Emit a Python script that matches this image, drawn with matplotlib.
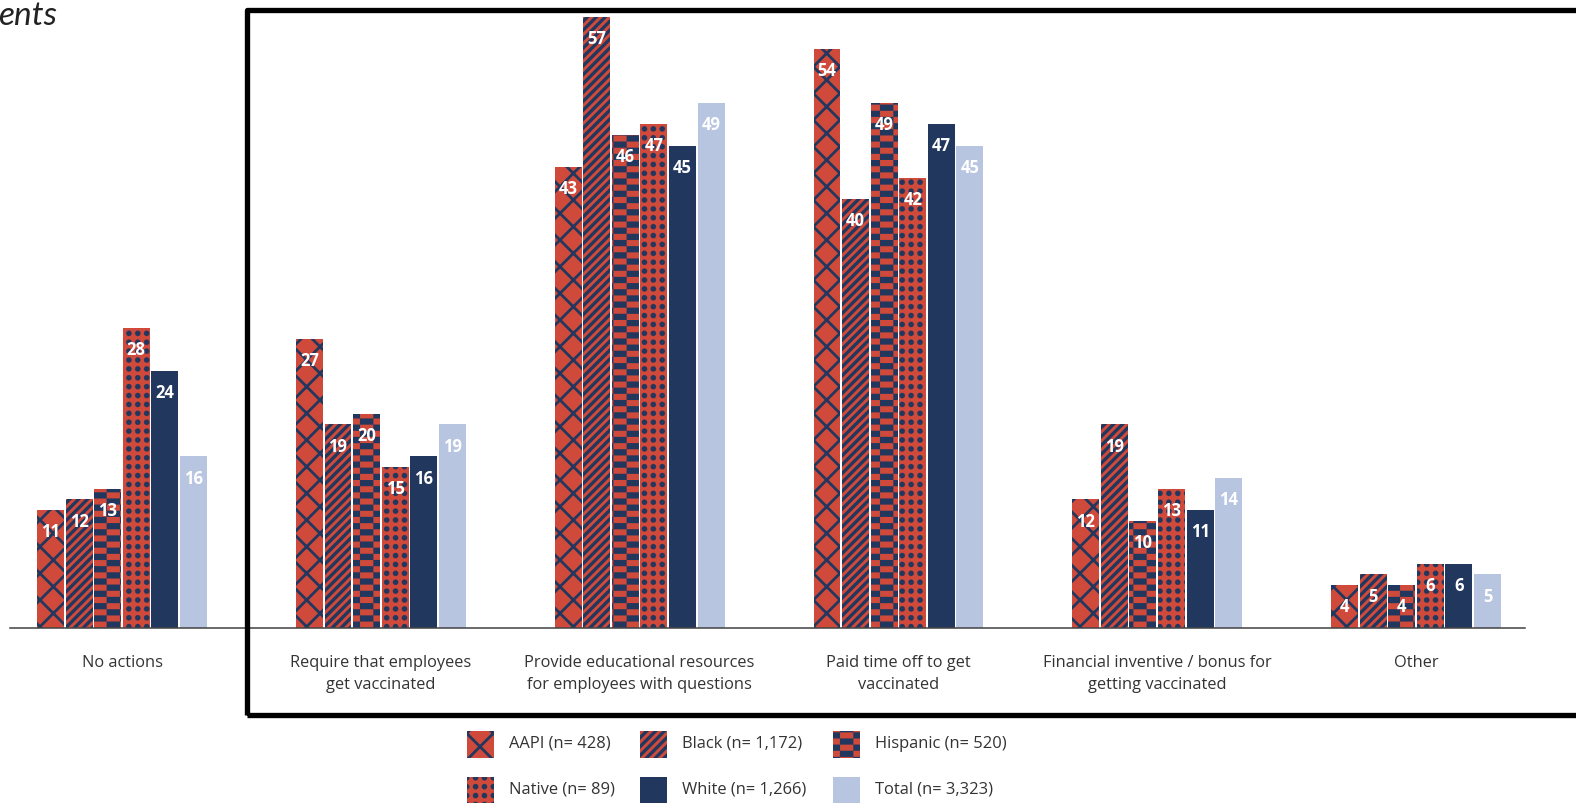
import warnings
import numpy as np
import matplotlib
matplotlib.use('Agg')
import matplotlib.pyplot as plt
import matplotlib.hatch as mhatch
from matplotlib.path import Path
from matplotlib.patches import Rectangle

warnings.filterwarnings('ignore')

# Dados
categories = ['No actions', 'Require that employees\nget vaccinated',
              'Provide educational resources\nfor employees with questions',
              'Paid time off to get\nvaccinated',
              'Financial inventive / bonus for\ngetting vaccinated', 'Other']
groups = ['AAPI (n= 428)', 'Black (n= 1,172)', 'Hispanic (n= 520)',
          'Native (n= 89)', 'White (n= 1,266)', 'Total (n= 3,323)']
aapi = [11, 27, 43, 54, 12, 4]
black = [12, 19, 57, 40, 19, 5]
hispanic = [13, 20, 46, 49, 10, 4]
native = [28, 15, 47, 42, 13, 6]
white = [24, 16, 45, 47, 11, 6]
total = [16, 19, 49, 45, 14, 5]

RED = '#d04a3b'
NAVY = '#22375e'
LIGHT = '#b8c5e0'
TXT = '#333333'


# hatches extras: xadrez ('c') e bolinhas em grade ('d')
class CellHatch(mhatch.HatchPatternBase):
    letter = None

    def __init__(self, hatch, density):
        self.cells = self.make_cells() if self.letter in hatch else []
        self.num_vertices = sum(len(c) for c in self.cells)

    def set_vertices_and_codes(self, vertices, codes):
        i = 0
        for cell in self.cells:
            n = len(cell)
            vertices[i:i + n] = cell
            codes[i] = Path.MOVETO
            codes[i + 1:i + n - 1] = Path.LINETO
            codes[i + n - 1] = Path.CLOSEPOLY
            i += n


class CheckerHatch(CellHatch):
    letter = 'c'

    def make_cells(self):
        nx, ny = 12, 26
        cells = []
        for i in range(nx):
            for j in range(ny):
                if (i + j) % 2 == 0:
                    x0, x1 = i / nx, (i + 1) / nx
                    y0, y1 = j / ny, (j + 1) / ny
                    cells.append(np.array([(x0, y0), (x1, y0), (x1, y1), (x0, y1), (x0, y0)]))
        return cells


class DotHatch(CellHatch):
    letter = 'd'

    def make_cells(self):
        n = 18
        t = np.linspace(0, 2 * np.pi, 17)
        ring = np.column_stack([np.cos(t), np.sin(t)]) * 0.31 / n
        return [ring + ((i + 0.5) / n, (j + 0.5) / n) for i in range(n) for j in range(n)]


mhatch._hatch_types.extend([CheckerHatch, DotHatch])

plt.rcParams['font.family'] = ['Open Sans', 'DejaVu Sans']
plt.rcParams['hatch.linewidth'] = 1.3

series = [aapi, black, hispanic, native, white, total]
styles = [
    dict(color=RED, edgecolor=NAVY, hatch='xx', hlw=1.25),
    dict(color=RED, edgecolor=NAVY, hatch='//////', hlw=1.5),
    dict(color=RED, edgecolor=NAVY, hatch='c', hlw=0.05),
    dict(color=RED, edgecolor=NAVY, hatch='d', hlw=0.05),
    dict(color=NAVY, edgecolor=NAVY, hatch=None, hlw=1),
    dict(color=LIGHT, edgecolor=LIGHT, hatch=None, hlw=1),
]


def style_patch(p, st):
    p.set_linewidth(0)
    if st['hatch'] and hasattr(p, 'set_hatch_linewidth'):
        p.set_hatch_linewidth(st['hlw'])


fig = plt.figure(figsize=(9.85, 5.01875), dpi=160)
ax = fig.add_axes([10 / 1576, 1 - 628 / 803, 1515 / 1576, 611 / 803])

x = np.arange(len(categories))
pitch = 0.1105
w = 0.104
for k, (vals, st) in enumerate(zip(series, styles)):
    pos = x + (k - 2.5) * pitch
    bars = ax.bar(pos, vals, width=w, color=st['color'], edgecolor=st['edgecolor'],
                  hatch=st['hatch'], linewidth=0)
    for b in bars:
        style_patch(b, st)
    for px, v in zip(pos, vals):
        ax.annotate(str(v), (px, v), xytext=(0, -10), textcoords='offset points',
                    ha='center', va='center', color='white', fontweight='bold', fontsize=7.5)

ax.set_xlim(-0.433, 5.421)
ax.set_ylim(0, 57)
ax.set_yticks([])
ax.set_xticks(x, categories, fontsize=7.4, color=TXT, linespacing=1.45)
ax.tick_params(axis='x', length=0, pad=12.3)
for s in ['top', 'right', 'left']:
    ax.spines[s].set_visible(False)
ax.spines['bottom'].set_color('#444444')
ax.spines['bottom'].set_linewidth(0.7)

# caixa preta destacando as acoes
fig.add_artist(Rectangle((247 / 1576, 1 - 715 / 803), 0.9, 705 / 803, fill=False,
                         edgecolor='black', linewidth=2.4, joinstyle='round',
                         transform=fig.transFigure, clip_on=False))

# titulo cortado
fig.text(-0.001, 1 - 25 / 803, 'ents', fontsize=15, style='italic', color='#222222',
         va='baseline', family=['Lato', 'DejaVu Sans'])

# legenda
col_x = [467, 640, 833]
row_y = [744, 790]
for k, (name, st) in enumerate(zip(groups, styles)):
    cx = col_x[k % 3]
    cy = row_y[k // 3]
    r = Rectangle((cx / 1576, 1 - (cy + 13.5) / 803), 27 / 1576, 27 / 803,
                  facecolor=st['color'], edgecolor=st['edgecolor'], hatch=st['hatch'],
                  linewidth=0, transform=fig.transFigure)
    style_patch(r, st)
    fig.add_artist(r)
    fig.text((cx + 42) / 1576, 1 - cy / 803, name, fontsize=7.45, color=TXT, va='center')

fig.savefig('out.png', dpi=160)
